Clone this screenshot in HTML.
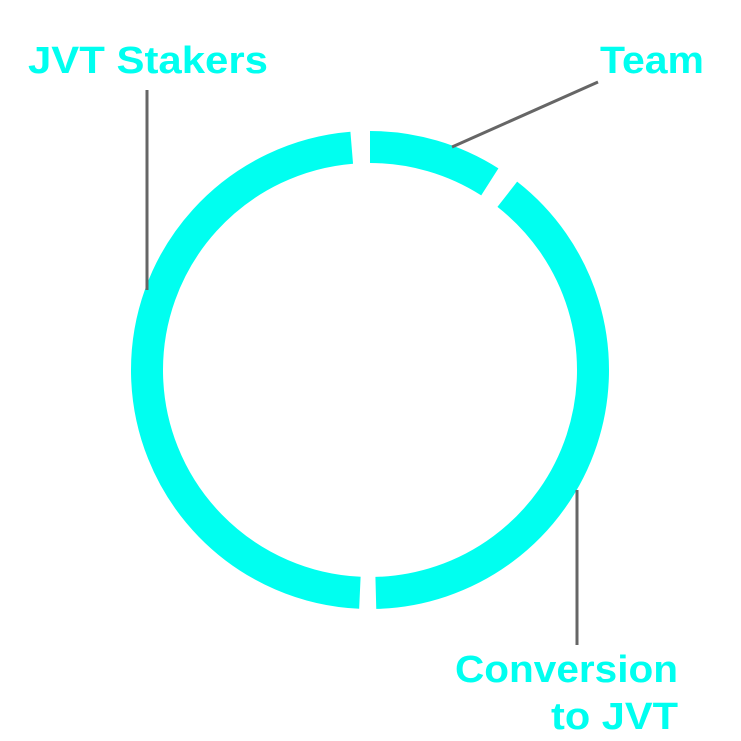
<!DOCTYPE html>
<html><head><style>html,body{margin:0;padding:0;background:#fff}svg{display:block}</style></head>
<body>
<svg width="741" height="741" viewBox="0 0 741 741" xmlns="http://www.w3.org/2000/svg">
<g id="arcs"></g>
<g stroke="#666" stroke-width="3" fill="none">
<line x1="147" y1="90" x2="147" y2="290"/>
<line x1="598" y1="82" x2="452" y2="147"/>
<line x1="577" y1="490" x2="577" y2="645"/>
</g>
<g font-family="Liberation Sans, Arial, sans-serif" font-weight="bold" font-size="38" fill="#00fff0">
<text x="28" y="73" textLength="240" lengthAdjust="spacingAndGlyphs">JVT Stakers</text>
<text x="600" y="73" textLength="104" lengthAdjust="spacingAndGlyphs">Team</text>
<text x="455" y="682" textLength="223" lengthAdjust="spacingAndGlyphs">Conversion</text>
<text x="551" y="729" textLength="127" lengthAdjust="spacingAndGlyphs">to JVT</text>
</g>
</svg>
<script>
function p(a){a=a*Math.PI/180;return [370+223*Math.sin(a),370-223*Math.cos(a)];}
function arc(s,e){var A=p(s),B=p(e);var l=(e-s)>180?1:0;return 'M'+A[0]+' '+A[1]+' A223 223 0 '+l+' 1 '+B[0]+' '+B[1];}
var g=document.getElementById('arcs');
[[0,32.5],[38,178.5],[182.6,355.3]].forEach(function(r){
var e=document.createElementNS('http://www.w3.org/2000/svg','path');
e.setAttribute('d',arc(r[0],r[1]));e.setAttribute('fill','none');e.setAttribute('stroke','#00fff0');e.setAttribute('stroke-width','32');g.appendChild(e);});
</script>
</body></html>
